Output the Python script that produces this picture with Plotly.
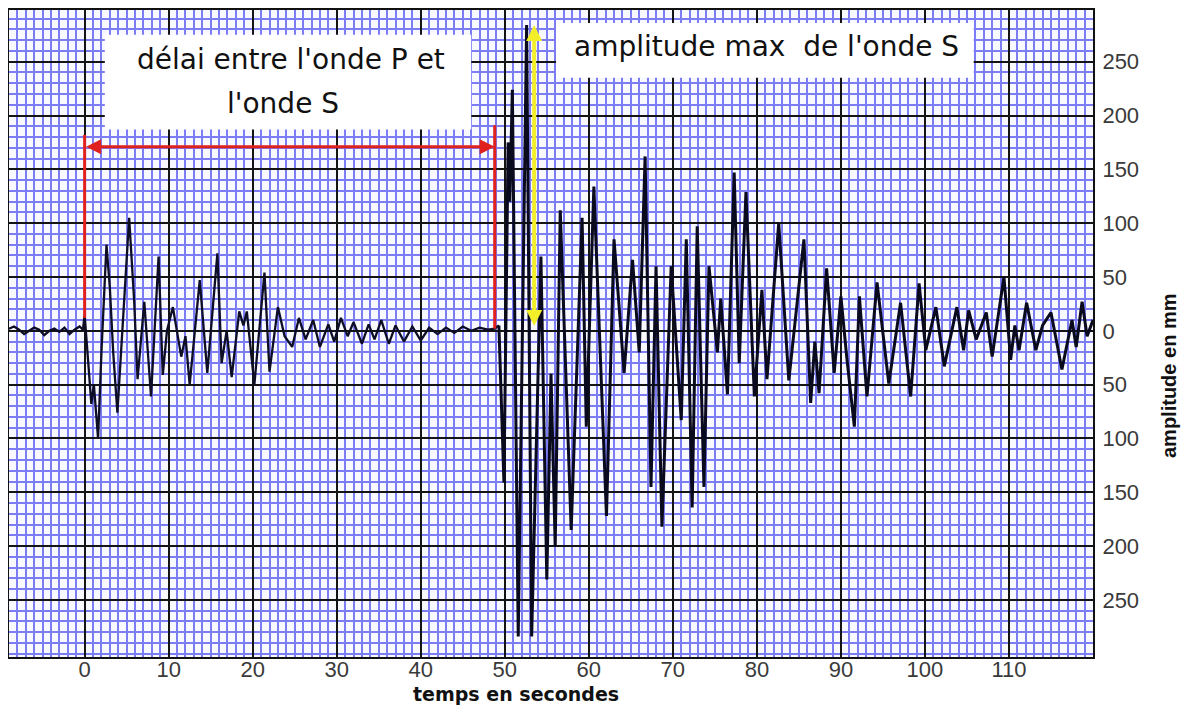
import plotly.graph_objects as go

# ---------------- data ----------------
time_s = [
    -9.0, -8.4, -7.8, -7.2, -6.6, -6.0, -5.4, -4.8, -4.2, -3.6, -3.0, -2.4, -1.8, -1.2, -0.6, -0.2,
    0.0, 0.4, 0.8, 1.1, 1.6, 2.0, 2.6, 3.0, 3.4, 3.9, 4.5, 5.3, 5.9, 6.3, 7.1, 7.9, 8.8, 9.3, 9.8,
    10.5, 11.5, 12.0, 12.5, 13.7, 14.6, 15.8, 16.3, 16.9, 17.5, 18.4, 18.9, 19.3, 20.2, 21.4, 22.0,
    23.0, 23.8, 24.7, 25.5, 26.3, 27.2, 28.0, 29.0, 29.7, 30.5, 31.3, 32.0, 33.0, 33.8, 34.5, 35.3,
    36.2, 37.0, 38.0, 39.0, 40.0, 41.0, 42.0, 43.0, 44.0, 45.0, 46.0, 47.0, 48.0, 48.8, 49.3,
    49.9, 50.4, 50.6, 50.9, 51.6, 52.6, 53.2, 54.3, 55.0, 55.5, 56.0, 56.6, 57.9, 59.2, 59.7, 60.6,
    62.1, 63.0, 64.2, 65.2, 66.0, 66.7, 67.4, 68.0, 68.7, 69.8, 71.0, 71.6, 72.3, 72.9, 73.7, 74.3,
    75.3, 75.7, 76.5, 77.3, 77.9, 78.7, 79.7, 80.6, 81.2, 82.6, 83.8, 85.6, 86.4, 86.9, 87.4, 88.3,
    89.2, 90.0, 90.7, 91.6, 92.2, 93.1, 94.3, 95.7, 97.1, 98.3, 99.3, 100.1, 101.3, 102.3, 103.8,
    104.6, 105.2, 106.1, 107.3, 108.0, 109.4, 110.2, 110.7, 111.2, 112.1, 113.2, 114.0, 115.0,
    116.3, 117.5, 118.0, 118.7, 119.3, 120.0,
]
amplitude_mm = [
    2, 4, 1, -3, 0, 3, 1, -4, 0, 2, -1, 3, -3, 1, 4, 1,
    15, -30, -68, -50, -100, -20, 80, 40, -20, -76, 0, 105, 27, -45, 27, -61, 69, -41, 0,
    22, -24, -5, -50, 47, -39, 72, -30, 0, -43, 18, 5, 18, -50, 54, -38,
    22, -5, -15, 12, -8, 10, -15, 6, -10, 12, -5, 8, -12, 6, -8, 10,
    -12, 5, -10, 4, -9, 3, -3, 3, -2, 4, 0, 3, 1, 2, 5,
    -141, 175, 120, 224, -284, 284, -284, 69, -231, -40, -200, 112, -185, 105, -89, 134,
    -172, 85, -39, 66, -20, 162, -145, 60, -182, 60, -83, 85, -164, 97, -145, 60,
    -20, 30, -59, 147, -30, 129, -61, 38, -45, 100, -46, 85, -67, -10, -58, 58,
    -39, 32, -25, -89, 32, -61, 45, -49, 26, -61, 44, -18, 22, -33, 22,
    -18, 19, -8, 17, -24, 50, -27, 5, -18, 26, -18, 5, 17,
    -36, 10, -15, 27, -5, 10,
]

x_tick_values = [0, 10, 20, 30, 40, 50, 60, 70, 80, 90, 100, 110]
y_tick_values = [250, 200, 150, 100, 50, 0, -50, -100, -150, -200, -250]
y_tick_labels = ["250", "200", "150", "100", "50", "0", "50", "100", "150", "200", "250"]

p_arrival_s = 0.0
s_arrival_s = 48.8
max_time_s = 53.5
max_amplitude_mm = 284

# ---------------- figure ----------------
fig = go.Figure()

# split the trace: P part drawn thinner, S part (after the S arrival) bolder
split = next(i for i, t in enumerate(time_s) if t > s_arrival_s) + 1
fig.add_trace(go.Scatter(
    x=time_s[:split], y=amplitude_mm[:split], mode="lines",
    line=dict(color="#0d0d26", width=2.3),
    hoverinfo="skip", showlegend=False,
))
fig.add_trace(go.Scatter(
    x=time_s[split - 1:], y=amplitude_mm[split - 1:], mode="lines",
    line=dict(color="#0a0a1e", width=3),
    hoverinfo="skip", showlegend=False,
))

grid_minor = "#7c7cf4"
grid_major = "#141414"

fig.update_xaxes(
    range=[-9, 120], tickvals=x_tick_values, ticks="", automargin=False,
    showgrid=True, gridcolor=grid_major, gridwidth=2,
    minor=dict(dtick=1, tick0=0, showgrid=True, gridcolor=grid_minor, gridwidth=2),
    showline=True, linecolor="#111", linewidth=2, mirror=True,
    zeroline=False, ticklabelstandoff=-8,
    tickfont=dict(family="Liberation Sans, Arial", size=22, color="#3a3a3a"),
)
fig.update_yaxes(
    range=[-303, 298], side="right", tickvals=y_tick_values, ticktext=y_tick_labels, ticks="",
    automargin=False,
    showgrid=True, gridcolor=grid_major, gridwidth=2,
    minor=dict(dtick=10, tick0=0, showgrid=True, gridcolor=grid_minor, gridwidth=2),
    showline=True, linecolor="#111", linewidth=2, mirror=True,
    zeroline=False, ticklabelstandoff=3,
    tickfont=dict(family="Liberation Sans, Arial", size=22, color="#3a3a3a"),
)

# white label boxes
fig.add_shape(type="rect", xref="x", yref="y", x0=2.4, x1=46.0, y0=187, y1=275,
              fillcolor="white", line=dict(width=0), layer="above")
fig.add_shape(type="rect", xref="x", yref="y", x0=56.1, x1=105.8, y0=235, y1=286,
              fillcolor="white", line=dict(width=0), layer="above")

box_font = dict(family="DejaVu Sans, Verdana", size=28, color="#111")
fig.add_annotation(x=24.6, y=252, xref="x", yref="y", text="délai entre l'onde P et",
                   showarrow=False, font=box_font)
fig.add_annotation(x=23.6, y=211, xref="x", yref="y", text="l'onde S",
                   showarrow=False, font=box_font)
fig.add_annotation(x=81.1, y=264, xref="x", yref="y", text="amplitude max\u00a0 de l'onde S",
                   showarrow=False, font=box_font)

# red delay bracket
red = "#e0201c"
fig.add_shape(type="line", xref="x", yref="y", x0=p_arrival_s, x1=p_arrival_s, y0=12, y1=182,
              line=dict(color=red, width=3), layer="above")
fig.add_shape(type="line", xref="x", yref="y", x0=s_arrival_s, x1=s_arrival_s, y0=2, y1=191,
              line=dict(color=red, width=3), layer="above")
fig.add_annotation(x=s_arrival_s, y=171, ax=p_arrival_s, ay=171, xref="x", yref="y",
                   axref="x", ayref="y", text="", showarrow=True, arrowhead=2,
                   arrowside="end+start", arrowsize=1, arrowwidth=3, arrowcolor=red)

# yellow max amplitude arrow
fig.add_annotation(x=max_time_s, y=max_amplitude_mm, ax=max_time_s, ay=3, xref="x", yref="y",
                   axref="x", ayref="y", text="", showarrow=True, arrowhead=2,
                   arrowside="end+start", arrowsize=0.8, arrowwidth=4, arrowcolor="#f2ef2a")

# axis titles (plot area spans x 9..1093, y 10..657 px)
fig.add_annotation(x=(516 - 9) / 1084, y=(657 - 707) / 647, xref="paper", yref="paper",
                   text="<b>temps en secondes</b>", showarrow=False,
                   font=dict(family="DejaVu Sans", size=19, color="#111"))
fig.add_annotation(x=(1182 - 9) / 1084, y=(657 - 376) / 647, xref="paper", yref="paper",
                   text="<b>amplitude en mm</b>", textangle=-90, showarrow=False,
                   font=dict(family="Liberation Sans, Arial", size=20, color="#111"))

# the page body adds an 8 px offset, compensated in the margins
fig.update_layout(
    width=1190, height=727,
    margin=dict(l=1, r=105, t=2, b=78),
    paper_bgcolor="white", plot_bgcolor="#f8f8ff",
    showlegend=False,
)

fig.write_html("out.html")
